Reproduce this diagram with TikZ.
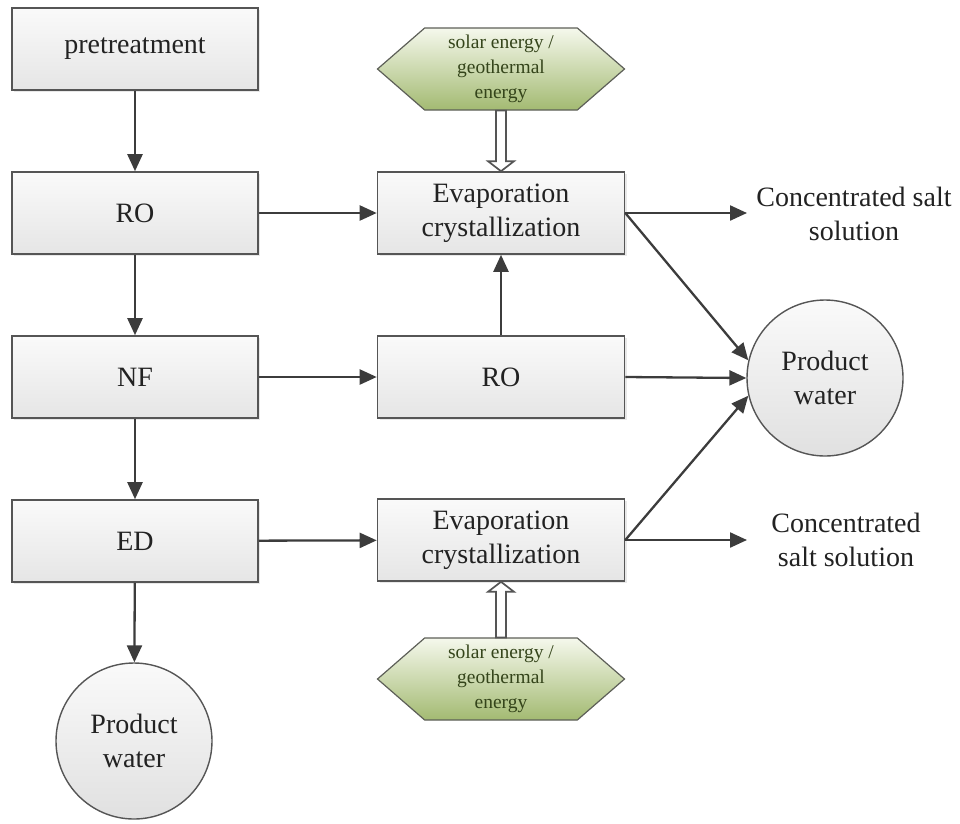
\documentclass[tikz,border=0pt]{standalone}
\usepackage{fontspec}
\setmainfont{Liberation Serif}
\usetikzlibrary{arrows.meta,shapes.symbols,shadows,calc}
\definecolor{linegray}{HTML}{3C3C3C}
\definecolor{bordergray}{HTML}{555555}
\definecolor{txtgray}{HTML}{222222}
\definecolor{hextop}{HTML}{F5F8EC}
\definecolor{hexbot}{HTML}{A3BA72}
\definecolor{hextxt}{HTML}{34441A}
\tikzset{
  procbox/.style={rectangle, draw=bordergray, line width=1.6pt,
    top color=white!98!black, bottom color=white!90!black,
    minimum width=246pt, minimum height=82pt, inner sep=0pt,
    align=center, text=txtgray,
    font=\rmfamily\fontsize{28}{34}\selectfont,
    drop shadow={opacity=0.18, shadow xshift=2pt, shadow yshift=-2pt}},
  prodcircle/.style={circle, draw=bordergray, line width=1.4pt,
    top color=white!98!black, bottom color=white!88!black,
    minimum size=156pt, inner sep=0pt, align=center, text=txtgray,
    font=\rmfamily\fontsize{28}{34}\selectfont},
  energyhex/.style={signal, signal to=east and west, signal pointer angle=82,
    draw=bordergray!90!hexbot, line width=1.2pt,
    top color=hextop, bottom color=hexbot,
    minimum width=247pt, minimum height=82pt, inner sep=0pt,
    align=center, text=hextxt, font=\rmfamily\fontsize{19.5}{25}\selectfont},
  outtext/.style={align=center, text=txtgray, inner sep=0pt,
    font=\rmfamily\fontsize{28}{34}\selectfont},
  flow/.style={draw=linegray, line width=2.3pt,
    -{Triangle[length=17pt,width=15pt]}},
  hollowarrow/.style={draw=bordergray, line width=1.7pt, fill=white, line join=miter}
}
\begin{document}
\begin{tikzpicture}[x=1pt, y=-1pt]
\useasboundingbox (0,0) rectangle (960,823);

% left column
\node[procbox] (pre) at (135,49) {pretreatment};
\node[procbox] (ro1) at (135,213) {RO};
\node[procbox] (nf) at (135,377) {NF};
\node[procbox] (ed) at (135,541) {ED};
\node[prodcircle] (pw1) at (134,741) {Product\\water};

% middle column
\node[energyhex] (hex1) at (501,69) {solar energy /\\geothermal\\energy};
\node[procbox, minimum width=247pt] (evap1) at (501,213) {Evaporation\\crystallization};
\node[procbox, minimum width=247pt] (ro2) at (501,377) {RO};
\node[procbox, minimum width=247pt] (evap2) at (501,540) {Evaporation\\crystallization};
\node[energyhex] (hex2) at (501,679) {solar energy /\\geothermal\\energy};

% right column
\node[prodcircle] (pw2) at (825,378) {Product\\water};
\node[outtext] (conc1) at (854,214) {Concentrated salt\\solution};
\node[outtext] (conc2) at (846,540) {Concentrated\\salt solution};
\coordinate (c1end) at (747,213);
\coordinate (c2end) at (747,540);

% connectors
\draw[flow] (pre) -- (ro1);
\draw[flow] (ro1) -- (nf);
\draw[flow] (nf) -- (ed);
\draw[flow] (ed) -- (pw1);
\draw[flow] (ro1) -- (evap1);
\draw[flow] (nf) -- (ro2);
\draw[flow] (ed) -- (evap2);
\draw[flow] (ro2) -- (evap1);
\draw[flow] (evap1.east) -- (c1end);
\draw[flow] (evap2.east) -- (c2end);
\draw[flow] (evap1.east) -- (pw2.167);
\draw[flow] (ro2.east) -- (pw2.west);
\draw[flow] (evap2.east) -- (pw2.193);

% hollow energy arrows
\draw[hollowarrow] let \p1=(hex1.south), \p2=(evap1.north) in
  (\x1-5pt,\y1) -- (\x1-5pt,\y2+10pt) -- (\x1-13pt,\y2+10pt) -- (\x1,\y2)
  -- (\x1+13pt,\y2+10pt) -- (\x1+5pt,\y2+10pt) -- (\x1+5pt,\y1) -- cycle;
\draw[hollowarrow] let \p1=(hex2.north), \p2=(evap2.south) in
  (\x1-5pt,\y1) -- (\x1-5pt,\y2-10pt) -- (\x1-13pt,\y2-10pt) -- (\x1,\y2)
  -- (\x1+13pt,\y2-10pt) -- (\x1+5pt,\y2-10pt) -- (\x1+5pt,\y1) -- cycle;
\end{tikzpicture}
\end{document}
